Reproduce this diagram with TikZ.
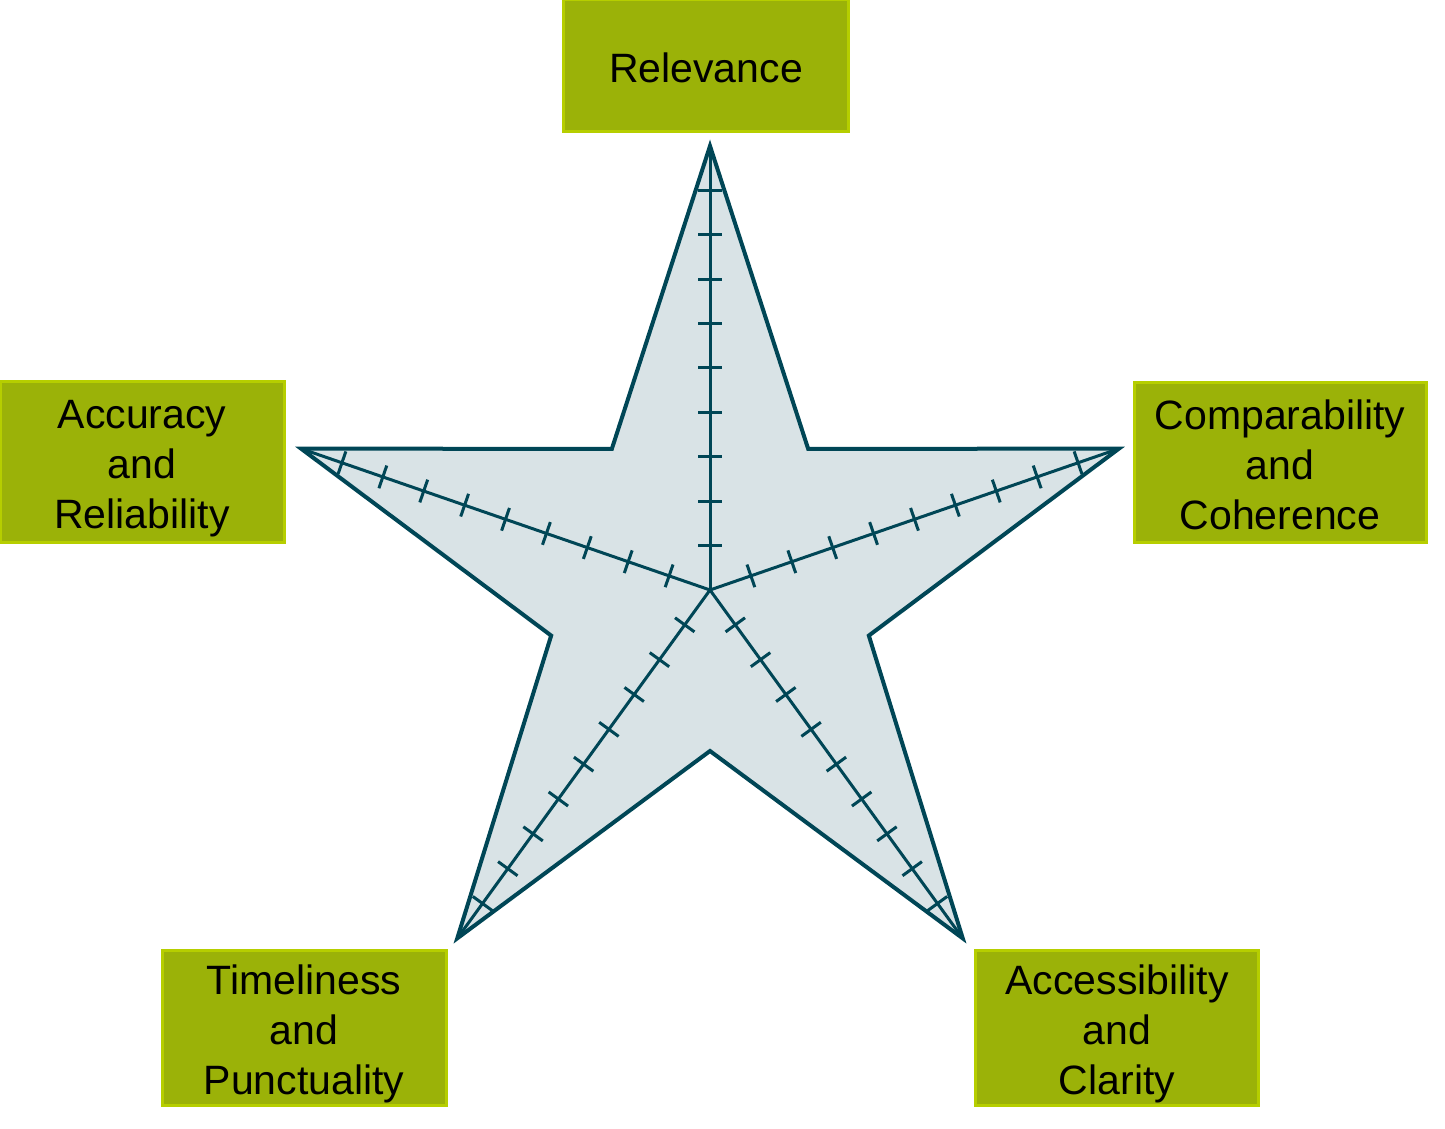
\documentclass[tikz,border=0pt]{standalone}
\usepackage{fontspec}
\setmainfont{Liberation Sans}
\usetikzlibrary{calc}
\definecolor{stardark}{RGB}{0,70,86}
\definecolor{starfill}{RGB}{217,227,230}
\definecolor{boxfill}{RGB}{155,178,8}
\definecolor{boxedge}{RGB}{182,206,0}
\begin{document}
\begin{tikzpicture}
[x=0.5pt,y=0.5pt,
  boxdecorate/.style={shape=rectangle,draw=boxedge,fill=boxfill,line width=1.5pt,
    align=center,font=\fontsize{20.5}{25}\selectfont,inner sep=0pt,text depth=4pt},%
  stardecorate/.style={draw=stardark,fill=starfill,line width=2pt},%
  spokedecorate/.style={-,draw=stardark,line width=1.5pt}]
\useasboundingbox (0,0) rectangle (1445,1129);
%% star outline
\coordinate (mid) at (710,545);
\coordinate (hub) at (710,539);
\draw[stardecorate] ($(mid)+(90:430 and 438)$)
  \foreach \a in {162,234,306,378} {
    -- ($(mid)+(\a-36:167)$) -- ($(mid)+(\a:430 and 438)$)
  } -- ($(mid)+(54:167)$) -- cycle;
%% tips of the spokes
\foreach \tipname/\a in {trel/90, tacc/162, ttim/234, tacs/306, tcmp/18} {
  \coordinate (\tipname) at ($(mid)+(\a:430 and 438)$);
}
%% spokes with ticks
\foreach \tipname in {trel, tacc, ttim, tacs, tcmp} {
  \draw[spokedecorate] (hub) -- (\tipname);
  \foreach \i in {1,...,9} {
    \coordinate (tick) at ($(hub)!{\i/10}!(\tipname)$);
    \draw[spokedecorate] ($(tick)!6pt!90:(\tipname)$) -- ($(tick)!6pt!-90:(\tipname)$);
  }
}
%% boxes
\foreach \boxname/\x/\y/\w/\h/\th/\txt in {
  rel/706/1063/285/132/21/{Relevance},
  acc/142/667/284/161/71/{Accuracy\\and\\Reliability},
  cmp/1280/666/292/160/71/{Comparability\\and\\Coherence},
  tim/304/101/284/155/71/{Timeliness\\and\\Punctuality},
  acs/1117/101/283/155/71/{Accessibility\\and\\Clarity}} {
  \node (\boxname) at (\x,\y) [boxdecorate,text height=\th pt,
    minimum width={\w*0.5pt},minimum height={\h*0.5pt}] {\txt};
}
\end{tikzpicture}
\end{document}
